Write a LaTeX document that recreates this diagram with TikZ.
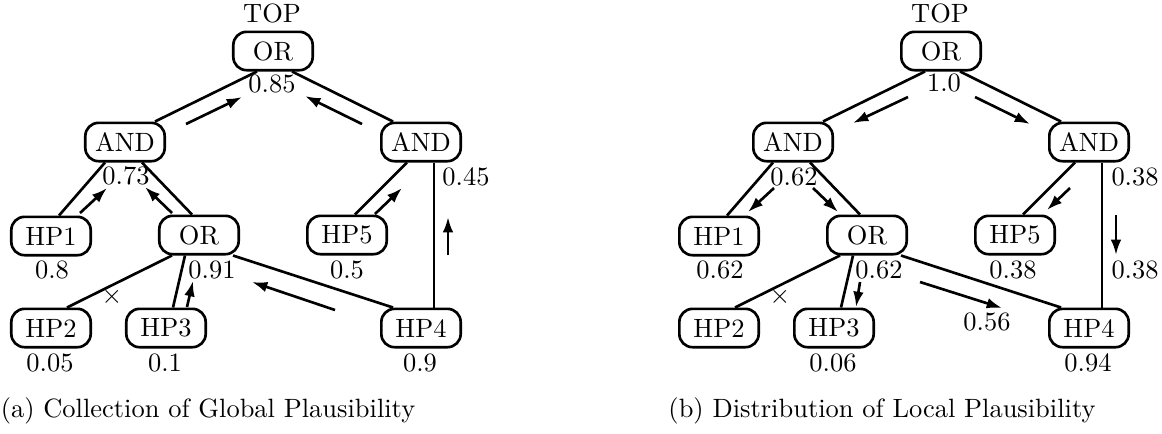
\documentclass[tikz,border=0pt]{standalone}
\usepackage{tikz}
\usetikzlibrary{arrows.meta,calc}

\tikzset{
  gate/.style={draw,line width=1pt,rounded corners=5pt,minimum width=30pt,minimum height=14.5pt,inner sep=1pt},
  link/.style={line width=1pt},
  flow/.style={line width=1pt,-{Latex[length=5.8pt,width=4pt]}},
}

\begin{document}
\begin{tikzpicture}[x=0.378pt,y=-0.378pt]
  \useasboundingbox (0,0) rectangle (1162,433);
  % the same and/or tree twice, (b) is 668 units to the right of (a)
  \foreach \t/\dx in {a/0,b/668}{
    \node (\t-name) at ({272+\dx},13) {TOP};
    \node[gate] (\t-top)  at ({273+\dx},51)  {OR};
    \node[gate] (\t-andL) at ({125+\dx},142) {AND};
    \node[gate] (\t-andR) at ({421+\dx},142) {AND};
    \node[gate] (\t-hp1)  at ({51+\dx},236)  {HP1};
    \node[gate] (\t-orM)  at ({199+\dx},235) {OR};
    \node[gate] (\t-hp5)  at ({347+\dx},235) {HP5};
    \node[gate] (\t-hp2)  at ({51+\dx},328)  {HP2};
    \node[gate] (\t-hp3)  at ({166+\dx},328) {HP3};
    \node[gate] (\t-hp4)  at ({421+\dx},328) {HP4};
    \draw[link] ($(\t-top.south)+(-16,0)$) -- ($(\t-andL.north)+(30,0)$);
    \draw[link] ($(\t-top.south)+(19,0)$) -- ($(\t-andR.north)+(-28,0)$);
    \draw[link] ($(\t-andL.south)+(-20,0)$) -- ($(\t-hp1.north)+(8,0)$);
    \draw[link] ($(\t-andL.south)+(17,0)$) -- ($(\t-orM.north)+(-7,0)$);
    \draw[link] ($(\t-andR.south)+(-14,0)$) -- ($(\t-hp5.north)+(8,0)$);
    \draw[line width=0.75pt] ($(\t-andR.south)+(13,0)$) -- ($(\t-hp4.north)+(13,0)$);
    \draw[link] ($(\t-orM.south)+(-27,0)$) -- ($(\t-hp2.north)+(16,0)$);
    \draw[link] ($(\t-orM.south)+(-14,0)$) -- ($(\t-hp3.north)+(7,0)$);
    \draw[link] ($(\t-orM.south)+(34,0)$) -- ($(\t-hp4.north)+(-28,0)$);
    \node (\t-cut) at ({112+\dx},297) {$\times$};
  }

  % (a) plausibility collected upwards
  \draw[flow] ($(a-andL)+(61,-18)$) -- ($(a-top)+(-31,46)$);
  \draw[flow] ($(a-andR)+(-59,-18)$) -- ($(a-top)+(32,45)$);
  \draw[flow] ($(a-hp1)+(29,-23)$) -- ($(a-andL)+(-18,46)$);
  \draw[flow] ($(a-orM)+(-27,-22)$) -- ($(a-andL)+(20,45)$);
  \draw[flow] ($(a-hp5)+(28,-21)$) -- ($(a-andR)+(-19,46)$);
  \draw[flow] ($(a-hp4)+(27,-73)$) -- ($(a-andR)+(27,75)$);
  \draw[flow] ($(a-hp3)+(21,-21)$) -- ($(a-orM)+(-6,46)$);
  \draw[flow] ($(a-hp4)+(-86,-18)$) -- ($(a-orM)+(53,47)$);
  \node (a-v0) at (272,84)  {0.85};
  \node (a-v1) at (126,176) {0.73};
  \node (a-v2) at (466,177) {0.45};
  \node (a-v3) at (52,270)  {0.8};
  \node (a-v4) at (212,270) {0.91};
  \node (a-v5) at (347,270) {0.5};
  \node (a-v6) at (50,363)  {0.05};
  \node (a-v7) at (165,363) {0.1};
  \node (a-v8) at (420,363) {0.9};
  \node (a-cap) at (208,411) {(a) Collection of Global Plausibility};

  % (b) plausibility handed back down
  \draw[flow] ($(b-top)+(-33,46)$) -- ($(b-andL)+(60,-19)$);
  \draw[flow] ($(b-top)+(34,46)$) -- ($(b-andR)+(-59,-18)$);
  \draw[flow] ($(b-andL)+(-19,46)$) -- ($(b-hp1)+(29,-24)$);
  \draw[flow] ($(b-andL)+(20,46)$) -- ($(b-orM)+(-29,-23)$);
  \draw[flow] ($(b-andR)+(-19,46)$) -- ($(b-hp5)+(32,-25)$);
  \draw[flow] ($(b-andR)+(27,73)$) -- ($(b-hp4)+(27,-73)$);
  \draw[flow] ($(b-orM)+(-7,47)$) -- ($(b-hp3)+(22,-21)$);
  \draw[flow] ($(b-orM)+(53,47)$) -- ($(b-hp4)+(-87,-20)$);
  \node (b-v0) at (944,83)   {1.0};
  \node (b-v1) at (794,177)  {0.62};
  \node (b-v2) at (1135,177) {0.38};
  \node (b-v3) at (720,270)  {0.62};
  \node (b-v4) at (879,270)  {0.62};
  \node (b-v5) at (1013,270) {0.38};
  \node (b-v6) at (1135,270) {0.38};
  \node (b-v7) at (987,322)  {0.56};
  \node (b-v8) at (833,363)  {0.06};
  \node (b-v9) at (1088,363) {0.94};
  \node (b-cap) at (882,411) {(b) Distribution of Local Plausibility};
\end{tikzpicture}
\end{document}
